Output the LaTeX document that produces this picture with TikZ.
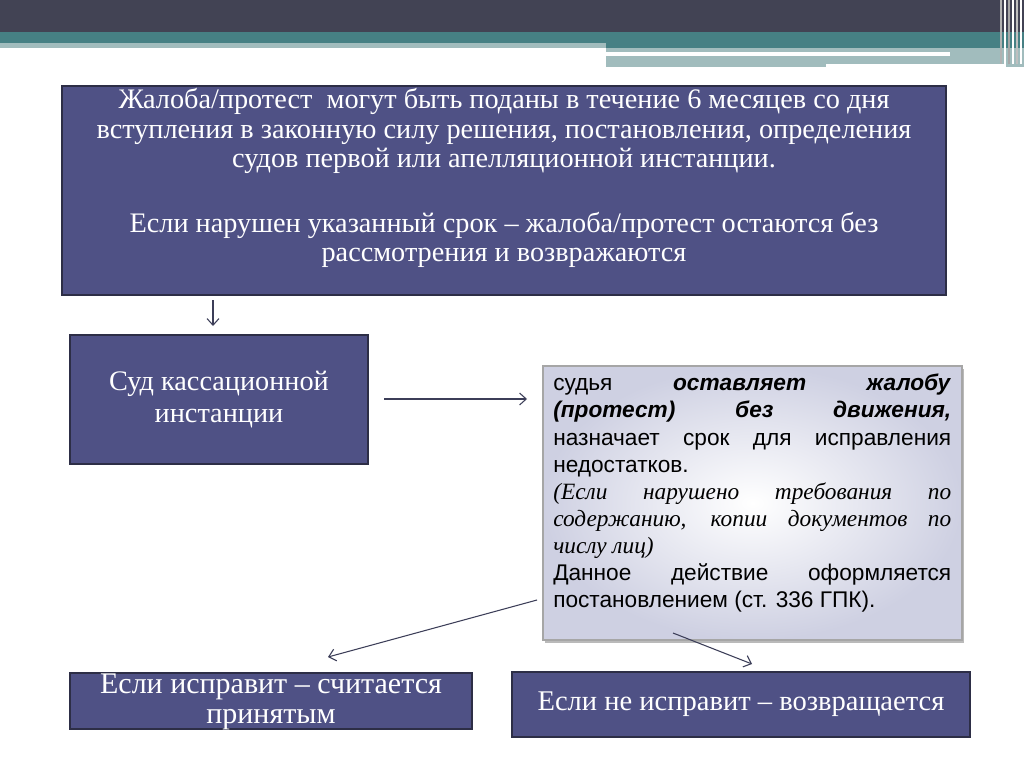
\documentclass[tikz,border=0pt]{standalone}
\usepackage{fontspec}
\setmainfont{Liberation Serif}
\newfontfamily\arialf{Liberation Sans}
\usetikzlibrary{arrows.meta,shadows}
\definecolor{hdark}{RGB}{66,67,84}
\definecolor{hteal}{RGB}{70,128,132}
\definecolor{hlight}{RGB}{161,188,189}
\definecolor{boxfill}{RGB}{79,81,133}
\definecolor{boxline}{RGB}{45,46,70}
\definecolor{arrowc}{RGB}{60,62,88}
\definecolor{lav}{RGB}{206,208,226}
\tikzset{
  darkbox/.style={draw=boxline, line width=0.9pt, fill=boxfill, inner sep=0pt},
  lightbox/.style={draw=gray!70, line width=0.9pt, inner color=white, outer color=lav, inner sep=0pt,
     drop shadow={shadow xshift=1.5pt, shadow yshift=-2pt, fill=black!45, opacity=0.6}},
  wtext/.style={text=white, align=center, font=\fontsize{21.2pt}{22.2pt}\selectfont},
  conn/.style={draw=arrowc, line width=0.8pt, -{Straight Barb[length=5pt,width=9pt]}}
}
\begin{document}
\begin{tikzpicture}[x=0.75pt,y=-0.75pt]
\useasboundingbox (0,0) rectangle (1024,767);
\fill[white] (0,0) rectangle (1024,767);
% header
\fill[hdark] (0,0) rectangle (1024,32);
\fill[hteal] (0,32) rectangle (1024,48);
\fill[hlight] (0,43) rectangle (606,48);
\fill[hlight] (606,48) rectangle (1024,67);
\fill[white] (606,52.5) rectangle (950,56);
\fill[white] (826,64) rectangle (1006,67);
\fill[white] (606,67) rectangle (1024,70);
\foreach \xx/\cc in {1000/gray!60,1004/white,1008/gray!70,1012/white,1016/gray!50,1020/white}
  \fill[\cc] (\xx,0) rectangle ++(2,64);

% boxes
\node[darkbox, minimum width=663pt, minimum height=156.75pt] (top) at (504,190.5) {};
\node[wtext] (toptext) at (504,178) {Жалоба/протест\ \ могут быть поданы в течение 6 месяцев со дня\\
вступления в законную силу решения, постановления, определения\\
судов первой или апелляционной инстанции.\\[26pt]
Если нарушен указанный срок – жалоба/протест остаются без\\
рассмотрения и возвражаются};

\node[darkbox, minimum width=223.5pt, minimum height=96.75pt, wtext, font=\fontsize{21.2pt}{24pt}\selectfont] (court) at (219,399.5) {Суд кассационной\\инстанции};

\node[lightbox, minimum width=314.25pt, minimum height=205.5pt] (judge) at (752.5,503) {};
\node[anchor=north west, inner sep=0pt, text width=298.5pt, align=justify,
  font=\arialf\fontsize{17pt}{20.3pt}\selectfont] (judgetext) at (553,374)
{судья \textbf{\textit{оставляет жалобу}}\linebreak \textbf{\textit{(протест) без движения,}}\linebreak назначает срок для исправления\linebreak недостатков.\\
{\rmfamily\itshape\fontsize{17.5pt}{20.3pt}\selectfont(Если нарушено требования по\linebreak содержанию, копии документов по\linebreak числу лиц)}\\
Данное действие оформляется постановлением (ст. 336 ГПК).};

\node[darkbox, minimum width=301.5pt, minimum height=42pt] (yes) at (271,701) {};
\node[wtext, font=\fontsize{22.5pt}{22pt}\selectfont] (yestext) at (271,702) {Если исправит – считается\\принятым};

\node[darkbox, minimum width=343.5pt, minimum height=48.75pt, wtext, font=\fontsize{21.4pt}{22pt}\selectfont] (no) at (741,704.5) {Если не исправит – возвращается};

% connectors
\coordinate (a1s) at (213,300);
\coordinate (a1e) at (213,326);
\draw[conn] (a1s) -- (a1e);
\coordinate (a2s) at (384,399);
\coordinate (a2e) at (527,399);
\draw[conn] (a2s) -- (a2e);
\coordinate (a3s) at (537,600);
\coordinate (a3e) at (328,657);
\draw[conn] (a3s) -- (a3e);
\coordinate (a4s) at (673,633);
\coordinate (a4e) at (752,664);
\draw[conn] (a4s) -- (a4e);
\end{tikzpicture}
\end{document}
